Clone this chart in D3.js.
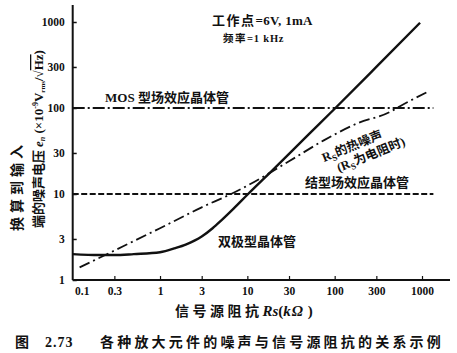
<!DOCTYPE html>
<html>
<head>
<meta charset="utf-8">
<script src="https://cdn.jsdelivr.net/npm/d3@7"></script>
<style>
  body { margin: 0; background: #fff; }
  text { fill: #111; }
  .cjk { font-family: "Noto Sans CJK SC", sans-serif; font-weight: 700; }
  .num { font-family: "Liberation Serif", serif; font-weight: 700; }
</style>
</head>
<body>
<div class="noise-chart"></div>
<script>
// tick labels
const xTicks = [0.1, 0.3, 1, 3, 10, 30, 100, 300, 1000];
const yTicks = [1, 3, 10, 30, 100, 300, 1000];

// bipolar transistor curve
const bipolarRs = [0.1, 0.2, 0.3, 0.5, 1, 1.5, 2, 3, 4, 5, 7, 10, 20, 50, 100, 300, 950];
const bipolarEn = [2.0, 1.95, 1.95, 2.0, 2.1, 2.35, 2.6, 3.2, 4.0, 4.9, 6.8, 9.8, 19.5, 49, 98, 300, 980];

// thermal noise of Rs
const thermalRs = [0.12, 0.3, 1, 3, 6.5, 10, 30, 75, 180, 430, 560, 1140];
const thermalEn = [1.4, 2.2, 4.0, 7.0, 10, 12.5, 24, 42, 66, 90, 105, 153];

// flat levels for the two FETs
const mosRs = [0.1, 1350];
const mosEn = [100, 100];
const jfetRs = [0.1, 1350];
const jfetEn = [10, 10];

const width = 457, height = 353;

const svg = d3.select(".noise-chart")
  .append("svg")
  .attr("width", width)
  .attr("height", height);

const x = d3.scaleLog().domain([0.1, 1000]).range([72.7, 422]);
const y = d3.scaleLog().domain([1, 1000]).range([280, 22]);

// axis lines (drawn longer than the domain)
svg.append("line")
  .attr("x1", x(0.1)).attr("x2", 450)
  .attr("y1", y(1)).attr("y2", y(1))
  .attr("stroke", "#111").attr("stroke-width", 2);
svg.append("line")
  .attr("x1", x(0.1)).attr("x2", x(0.1))
  .attr("y1", y(1)).attr("y2", 5)
  .attr("stroke", "#111").attr("stroke-width", 2);

const yAxis = d3.axisLeft(y).tickValues(yTicks).tickSize(-4).tickPadding(8).tickFormat(d3.format("d"));
svg.append("g")
  .attr("transform", "translate(" + x(0.1) + ",0)")
  .call(yAxis)
  .call(g => g.select(".domain").remove())
  .call(g => g.selectAll("line").attr("stroke", "#111").attr("stroke-width", 1.5))
  .call(g => g.selectAll("text").attr("class", "num").attr("font-size", 11.5));

const xAxis = d3.axisBottom(x).tickValues(xTicks).tickSize(-4).tickPadding(7).tickFormat(d => String(d));
svg.append("g")
  .attr("transform", "translate(0," + y(1) + ")")
  .call(xAxis)
  .call(g => g.select(".domain").remove())
  .call(g => g.selectAll("line").attr("stroke", "#111").attr("stroke-width", 1.2))
  .call(g => g.selectAll("text").attr("class", "num").attr("font-size", 11.5))
  .call(g => g.selectAll(".tick").filter(d => d === 0.1).select("line").remove())
  .call(g => g.selectAll(".tick").filter(d => d === 0.1).select("text").attr("dx", 9));

const line = d3.line()
  .x(d => x(d[0]))
  .y(d => y(d[1]))
  .curve(d3.curveMonotoneX);

const addCurve = (rs, en, dash, w) => {
  svg.append("path")
    .datum(d3.zip(rs, en))
    .attr("d", line)
    .attr("fill", "none")
    .attr("stroke", "#111")
    .attr("stroke-width", w)
    .attr("stroke-dasharray", dash);
};

addCurve(mosRs, mosEn, "12,3,2,3", 1.8);
addCurve(jfetRs, jfetEn, "6,2.5", 1.8);
addCurve(thermalRs, thermalEn, "11,4,2,4", 1.8);
addCurve(bipolarRs, bipolarEn, null, 2.4);

// texts
const addText = (txt, tx, ty, size, cls) =>
  svg.append("text").attr("x", tx).attr("y", ty).attr("class", cls)
    .attr("font-size", size).text(txt);

const t1 = svg.append("text").attr("x", 212).attr("y", 25).attr("font-size", 13);
t1.append("tspan").attr("class", "cjk").attr("letter-spacing", 1.5).text("工作点");
t1.append("tspan").attr("class", "num").attr("letter-spacing", 0.3).text("=6V, 1mA");
const t2 = svg.append("text").attr("x", 223).attr("y", 42).attr("font-size", 10.5);
t2.append("tspan").attr("class", "cjk").attr("letter-spacing", 1.5).text("频率");
t2.append("tspan").attr("class", "num").attr("font-weight", 400).attr("letter-spacing", 0.8).text("=1 kHz");

const mos = svg.append("text").attr("x", 105).attr("y", 102).attr("font-size", 13);
mos.append("tspan").attr("class", "num").attr("font-weight", 400).text("MOS ");
mos.append("tspan").attr("class", "cjk").text("型场效应晶体管");

addText("结型场效应晶体管", 305, 187, 13, "cjk");
addText("双极型晶体管", 218, 246, 13, "cjk");

// thermal noise label, tilted along the line
const th = svg.append("g").attr("transform", "translate(324,162) rotate(-22)");
const th1 = th.append("text").attr("font-size", 12.5);
th1.append("tspan").attr("class", "num").attr("font-weight", 400).text("R");
th1.append("tspan").attr("class", "num").attr("font-weight", 400).attr("font-size", 9).attr("dy", 3).text("S");
th1.append("tspan").attr("class", "cjk").attr("dy", -3).text("的热噪声");
const th2 = th.append("text").attr("x", 10).attr("y", 15).attr("font-size", 12.5);
th2.append("tspan").attr("class", "num").attr("font-weight", 400).text("(R");
th2.append("tspan").attr("class", "num").attr("font-weight", 400).attr("font-size", 9).attr("dy", 3).text("S");
th2.append("tspan").attr("class", "cjk").attr("dy", -3).text("为电阻时");
th2.append("tspan").attr("class", "num").attr("font-weight", 400).text(")");

// y axis title, two rotated lines
svg.append("text")
  .attr("transform", "translate(22,186) rotate(-90)")
  .attr("text-anchor", "middle")
  .attr("class", "cjk")
  .attr("font-size", 14)
  .attr("letter-spacing", 4)
  .text("换算到输入");

const yl = svg.append("text")
  .attr("transform", "translate(43,139) rotate(-90)")
  .attr("text-anchor", "middle")
  .attr("font-size", 13);
yl.append("tspan").attr("class", "cjk").text("端的噪声电压 ");
yl.append("tspan").attr("class", "num").attr("font-style", "italic").attr("font-weight", 400).text("e");
yl.append("tspan").attr("class", "num").attr("font-style", "italic").attr("font-weight", 400).attr("font-size", 8).attr("dy", 2).text("n");
yl.append("tspan").attr("class", "num").attr("font-weight", 400).attr("dy", -2).text(" (×10");
yl.append("tspan").attr("class", "num").attr("font-weight", 400).attr("font-size", 8).attr("dy", -5).text("-9");
yl.append("tspan").attr("class", "num").attr("font-weight", 400).attr("dy", 5).text("V");
yl.append("tspan").attr("class", "num").attr("font-weight", 400).attr("font-size", 7).attr("dy", 2).text("rms");
yl.append("tspan").attr("class", "num").attr("font-weight", 400).attr("dy", -2).text("/√");
yl.append("tspan").attr("class", "num").attr("font-weight", 400).attr("text-decoration", "overline").text("Hz");
yl.append("tspan").attr("class", "num").attr("font-weight", 400).text(")");

// x axis title
const xl = svg.append("text").attr("x", 175).attr("y", 316).attr("font-size", 14);
xl.append("tspan").attr("class", "cjk").attr("letter-spacing", 3.5).text("信号源阻抗");
xl.append("tspan").attr("class", "num").attr("font-style", "italic").attr("font-weight", 400).attr("font-size", 15).text("Rs");
xl.append("tspan").attr("class", "num").attr("font-weight", 400).attr("font-size", 15).text("(");
xl.append("tspan").attr("class", "num").attr("font-style", "italic").attr("font-weight", 400).attr("font-size", 15).attr("letter-spacing", 1).text("kΩ");
xl.append("tspan").attr("class", "num").attr("font-weight", 400).attr("font-size", 15).text(" )");

// caption
const cap = svg.append("text").attr("x", 15).attr("y", 347).attr("font-size", 14);
cap.append("tspan").attr("class", "cjk").text("图");
cap.append("tspan").attr("class", "num").attr("x", 45).attr("letter-spacing", 1).text("2.73");
cap.append("tspan").attr("class", "cjk").attr("x", 100).attr("letter-spacing", 3.2).text("各种放大元件的噪声与信号源阻抗的关系示例");
</script>
</body>
</html>
